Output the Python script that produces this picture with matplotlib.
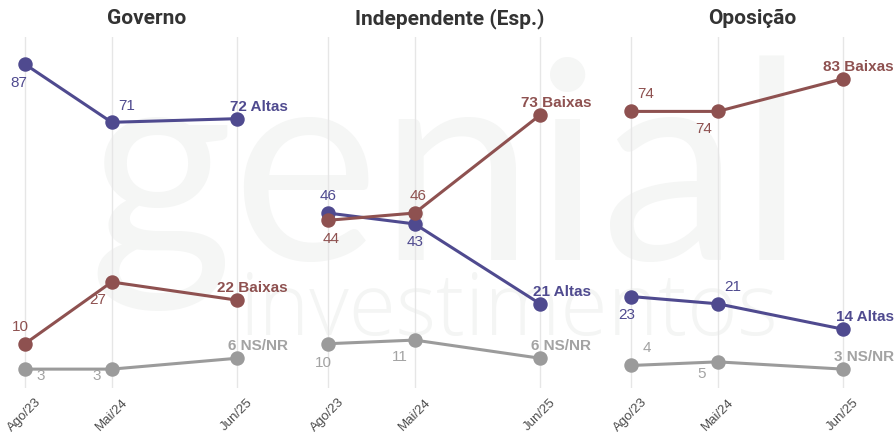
import matplotlib
matplotlib.use('Agg')
import matplotlib.pyplot as plt

# survey data (%), three waves
periods = ['Ago/23', 'Mai/24', 'Jun/25']
month_pos = [0, 9, 22]  # months since Ago/23
panels = ['Governo', 'Independente (Esp.)', 'Oposição']

altas = [[87, 71, 72], [46, 43, 21], [23, 21, 14]]
baixas = [[10, 27, 22], [44, 46, 73], [74, 74, 83]]
nsnr = [[3, 3, 6], [10, 11, 6], [4, 5, 3]]

series_names = ['Altas', 'Baixas', 'NS/NR']
colors = ['#4f4a8f', '#8e5150', '#9b9b9b']
text_colors = ['#4f4a8f', '#8e5150', '#a3a3a3']

# label offsets in pixels for the first two points (per panel, per series)
label_offsets = [
    [[(-6, -19), (15, 16)], [(-5, 17), (-14, -18)], [(16, -7), (-15, -7)]],
    [[(0, 17), (0, -18)], [(3, -19), (3, 17)], [(-5, -19), (-15, -17)]],
    [[(-4, -18), (15, 17)], [(15, 17), (-14, -18)], [(16, 17), (-16, -12)]],
]

W, H = 896, 436
fig = plt.figure(figsize=(W / 100, H / 100), dpi=100)
fig.patch.set_facecolor('white')

# faint logo watermark
fig.text(88 / W, (H - 260) / H, 'genial', family='Lato', weight='normal',
         fontsize=200, color='#f5f6f5', ha='left', va='baseline', zorder=-5)
fig.text(240 / W, (H - 335) / H, 'investimentos', family='Open Sans', weight='light',
         fontsize=62, color='#f4f5f4', ha='left', va='baseline', zorder=-5)

ax_left = [8, 311, 614]
ax_w = 277
for i, title in enumerate(panels):
    ax = fig.add_axes([ax_left[i] / W, (H - 388) / H, ax_w / W, (388 - 37) / H])
    ax.set_facecolor('none')
    ax.set_xlim(-1.76, 26.97)
    ax.set_ylim(-2.2, 94.5)
    for s in ax.spines.values():
        s.set_visible(False)
    ax.set_yticks([])
    ax.set_xticks(month_pos)
    ax.set_xticklabels(periods, rotation=45, ha='center', va='top',
                       fontsize=9.5, color='#4d4d4d', family='Liberation Sans')
    ax.tick_params(axis='x', length=0, pad=6)
    ax.grid(axis='x', color='#e6e6e6', lw=1)
    ax.set_axisbelow(True)
    ax.set_title(title, family='Roboto', weight='bold', fontsize=15,
                 color='#333333', pad=9)

    data = [altas[i], baixas[i], nsnr[i]]
    for k in [2, 0, 1]:
        vals = data[k]
        ax.plot(month_pos, vals, color=colors[k], lw=2.2, marker='o',
                markersize=9.4, zorder=3 + k)
        for j in range(2):
            dx, dy = label_offsets[i][k][j]
            ax.annotate(str(vals[j]), (month_pos[j], vals[j]),
                        xytext=(dx, dy), textcoords='offset pixels',
                        ha='center', va='center', fontsize=11,
                        color=text_colors[k], family='Liberation Sans')
        ax.annotate(f'{vals[2]} {series_names[k]}', (month_pos[2], vals[2]),
                    xytext=(51, 12), textcoords='offset pixels',
                    ha='right', va='center', fontsize=11, weight='bold',
                    color=text_colors[k], family='Liberation Sans',
                    annotation_clip=False)

fig.savefig('out.png', dpi=100)
